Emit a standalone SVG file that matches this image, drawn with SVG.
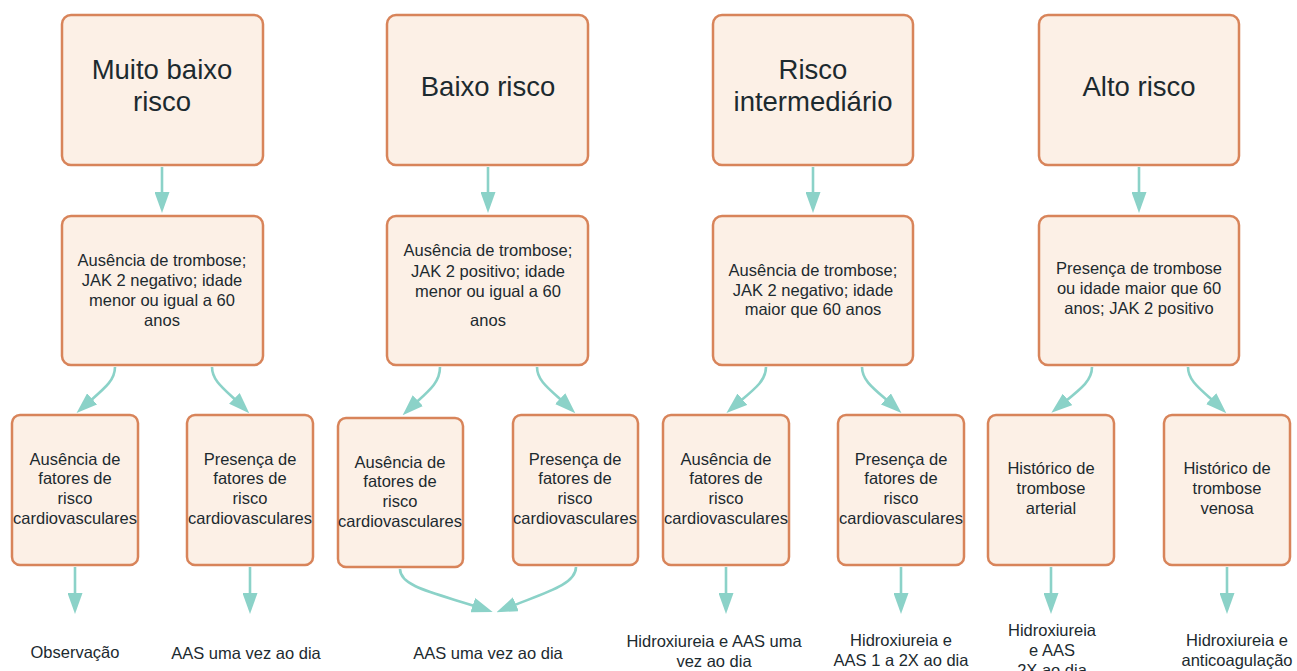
<svg xmlns="http://www.w3.org/2000/svg" width="1297" height="671" viewBox="0 0 1297 671">
<defs>
<style>
.box{fill:#fcf0e6;stroke:#d8845a;stroke-width:2.5}
.t{font-family:"Liberation Sans",Arial,sans-serif;fill:#1c2a2f;text-anchor:middle}
.big{font-size:27.5px}
.sm{font-size:16.5px}
.c{fill:none;stroke:#8bd2c8;stroke-width:2.6}
</style>
<marker id="ah" viewBox="0 0 21 15" refX="15" refY="7.5" markerWidth="21" markerHeight="15" markerUnits="userSpaceOnUse" orient="auto">
<path d="M0,0 L21,7.5 L0,15 Z" fill="#8bd2c8"/>
</marker>
</defs>
<rect width="1297" height="671" fill="#ffffff"/>

<g id="connectors">
<path class="c" marker-end="url(#ah)" d="M162,167 L162,207"/>
<path class="c" marker-end="url(#ah)" d="M488,167 L488,207"/>
<path class="c" marker-end="url(#ah)" d="M813,167 L813,207"/>
<path class="c" marker-end="url(#ah)" d="M1139,167 L1139,207"/>

<path class="c" marker-end="url(#ah)" d="M115,367 C115,382 102,390 81,409"/>
<path class="c" marker-end="url(#ah)" d="M212,367 C212,382 226,390 245,409"/>
<path class="c" marker-end="url(#ah)" d="M440,367 C440,384 427,392 407,411"/>
<path class="c" marker-end="url(#ah)" d="M537,367 C537,382 551,390 571,409"/>
<path class="c" marker-end="url(#ah)" d="M766,367 C766,382 753,390 731,409"/>
<path class="c" marker-end="url(#ah)" d="M862,367 C862,382 876,390 897,409"/>
<path class="c" marker-end="url(#ah)" d="M1092,367 C1092,382 1079,390 1056,409"/>
<path class="c" marker-end="url(#ah)" d="M1188,367 C1188,382 1202,390 1222,409"/>

<path class="c" marker-end="url(#ah)" d="M75,567 L75,608"/>
<path class="c" marker-end="url(#ah)" d="M250,567 L250,608"/>
<path class="c" marker-end="url(#ah)" d="M400,569 C400,588 440,594 487,610"/>
<path class="c" marker-end="url(#ah)" d="M576,567 C576,586 540,594 502,610"/>
<path class="c" marker-end="url(#ah)" d="M726,567 L726,608"/>
<path class="c" marker-end="url(#ah)" d="M901,567 L901,608"/>
<path class="c" marker-end="url(#ah)" d="M1051,567 L1051,608"/>
<path class="c" marker-end="url(#ah)" d="M1227,567 L1227,608"/>
</g>

<g id="top1"><rect class="box" x="62" y="15" width="201" height="150" rx="9"/>
<text class="t big" x="162" y="79">Muito baixo</text><text class="t big" x="162" y="111">risco</text></g>
<g id="top2"><rect class="box" x="387" y="15" width="201" height="150" rx="9"/>
<text class="t big" x="488" y="96">Baixo risco</text></g>
<g id="top3"><rect class="box" x="713" y="15" width="200" height="150" rx="9"/>
<text class="t big" x="813" y="79">Risco</text><text class="t big" x="813" y="111">intermediário</text></g>
<g id="top4"><rect class="box" x="1039" y="15" width="200" height="150" rx="9"/>
<text class="t big" x="1139" y="96">Alto risco</text></g>

<g id="mid1"><rect class="box" x="62" y="216" width="201" height="149" rx="9"/>
<text class="t sm" x="162" y="266">Ausência de trombose;</text>
<text class="t sm" x="162" y="286">JAK 2 negativo; idade</text>
<text class="t sm" x="162" y="306">menor ou igual a 60</text>
<text class="t sm" x="162" y="326">anos</text></g>
<g id="mid2"><rect class="box" x="387" y="216" width="201" height="149" rx="9"/>
<text class="t sm" x="488" y="256">Ausência de trombose;</text>
<text class="t sm" x="488" y="277">JAK 2 positivo; idade</text>
<text class="t sm" x="488" y="297">menor ou igual a 60</text>
<text class="t sm" x="488" y="326">anos</text></g>
<g id="mid3"><rect class="box" x="713" y="216" width="200" height="149" rx="9"/>
<text class="t sm" x="813" y="276">Ausência de trombose;</text>
<text class="t sm" x="813" y="296">JAK 2 negativo; idade</text>
<text class="t sm" x="813" y="315">maior que 60 anos</text></g>
<g id="mid4"><rect class="box" x="1039" y="216" width="200" height="149" rx="9"/>
<text class="t sm" x="1139" y="274">Presença de trombose</text>
<text class="t sm" x="1139" y="294">ou idade maior que 60</text>
<text class="t sm" x="1139" y="314">anos; JAK 2 positivo</text></g>

<g id="b1"><rect class="box" x="12" y="415" width="126" height="150" rx="8"/>
<text class="t sm" x="75" y="465">Ausência de</text><text class="t sm" x="75" y="484">fatores de</text>
<text class="t sm" x="75" y="504">risco</text><text class="t sm" x="75" y="524">cardiovasculares</text></g>
<g id="b2"><rect class="box" x="187" y="415" width="126" height="150" rx="8"/>
<text class="t sm" x="250" y="465">Presença de</text><text class="t sm" x="250" y="484">fatores de</text>
<text class="t sm" x="250" y="504">risco</text><text class="t sm" x="250" y="524">cardiovasculares</text></g>
<g id="b3"><rect class="box" x="338" y="418" width="125" height="149" rx="8"/>
<text class="t sm" x="400" y="468">Ausência de</text><text class="t sm" x="400" y="487">fatores de</text>
<text class="t sm" x="400" y="507">risco</text><text class="t sm" x="400" y="527">cardiovasculares</text></g>
<g id="b4"><rect class="box" x="513" y="415" width="125" height="150" rx="8"/>
<text class="t sm" x="575" y="465">Presença de</text><text class="t sm" x="575" y="484">fatores de</text>
<text class="t sm" x="575" y="504">risco</text><text class="t sm" x="575" y="524">cardiovasculares</text></g>
<g id="b5"><rect class="box" x="663" y="415" width="126" height="150" rx="8"/>
<text class="t sm" x="726" y="465">Ausência de</text><text class="t sm" x="726" y="484">fatores de</text>
<text class="t sm" x="726" y="504">risco</text><text class="t sm" x="726" y="524">cardiovasculares</text></g>
<g id="b6"><rect class="box" x="838" y="415" width="126" height="150" rx="8"/>
<text class="t sm" x="901" y="465">Presença de</text><text class="t sm" x="901" y="484">fatores de</text>
<text class="t sm" x="901" y="504">risco</text><text class="t sm" x="901" y="524">cardiovasculares</text></g>
<g id="b7"><rect class="box" x="988" y="415" width="126" height="150" rx="8"/>
<text class="t sm" x="1051" y="474">Histórico de</text><text class="t sm" x="1051" y="494">trombose</text>
<text class="t sm" x="1051" y="514">arterial</text></g>
<g id="b8"><rect class="box" x="1164" y="415" width="126" height="150" rx="8"/>
<text class="t sm" x="1227" y="474">Histórico de</text><text class="t sm" x="1227" y="494">trombose</text>
<text class="t sm" x="1227" y="514">venosa</text></g>

<g id="r1"><text class="t sm" x="75" y="658">Observação</text></g>
<g id="r2"><text class="t sm" x="246" y="659">AAS uma vez ao dia</text></g>
<g id="r3"><text class="t sm" x="488" y="659">AAS uma vez ao dia</text></g>
<g id="r4"><text class="t sm" x="714" y="647">Hidroxiureia e AAS uma</text><text class="t sm" x="714" y="667">vez ao dia</text></g>
<g id="r5"><text class="t sm" x="901" y="646">Hidroxiureia e</text><text class="t sm" x="901" y="666">AAS 1 a 2X ao dia</text></g>
<g id="r6"><text class="t sm" x="1052" y="636">Hidroxiureia</text><text class="t sm" x="1052" y="656">e AAS</text><text class="t sm" x="1052" y="676">2X ao dia</text></g>
<g id="r7"><text class="t sm" x="1237" y="646">Hidroxiureia e</text><text class="t sm" x="1237" y="666">anticoagulação</text></g>
</svg>
